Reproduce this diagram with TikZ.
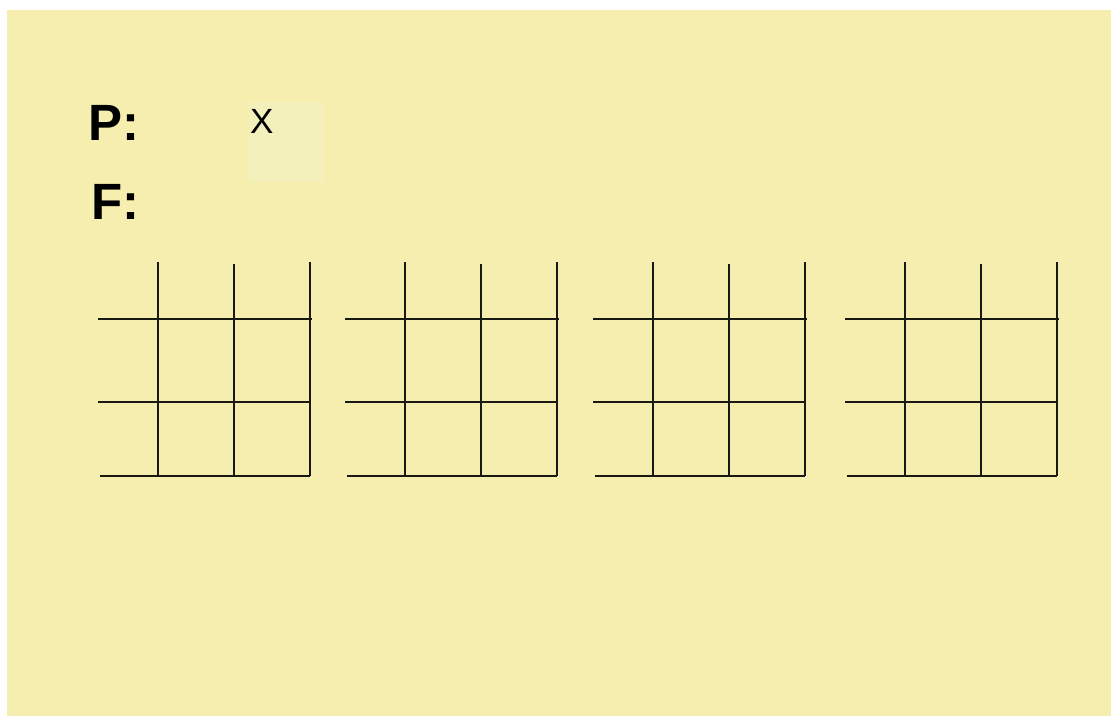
\documentclass[tikz,border=0pt]{standalone}
\usepackage{fontspec}
\setmainfont{Liberation Sans}
\definecolor{bg}{RGB}{245,238,174}
\definecolor{boxc}{RGB}{243,240,188}
\definecolor{ln}{RGB}{25,25,20}
\tikzset{
  lab/.style={inner sep=0pt, anchor=base west, font=\fontsize{51}{51}\selectfont\bfseries},
  gridline/.style={draw=ln, line width=2pt},
}
\begin{document}
\begin{tikzpicture}[x=1pt,y=-1pt]
\useasboundingbox (0,0) rectangle (1111,715);
\fill[white] (0,0) rectangle (1111,715);
\fill[bg] (7,10) rectangle (1116,720);
\fill[boxc] (249,102) rectangle (323,182);
\node[lab] (P) at (88,140) {P:};
\node[lab] (F) at (91,219.5) {F:};
\node[inner sep=0pt, anchor=base west, font=\fontsize{35}{35}\selectfont] (X) at (250,133.5) {X};
\foreach \ox in {0, 247, 495, 747} {
  \begin{scope}[xshift=\ox]
    \draw[gridline] (98,318.5) -- (312,318.5);
    \draw[gridline] (98,401.5) -- (310,401.5);
    \draw[gridline] (100,475.5) -- (310,475.5);
    \draw[gridline] (158,262) -- (158,475.5);
    \draw[gridline] (234,264) -- (234,475.5);
    \draw[gridline] (310,262) -- (310,475.5);
  \end{scope}
}
\end{tikzpicture}
\end{document}
